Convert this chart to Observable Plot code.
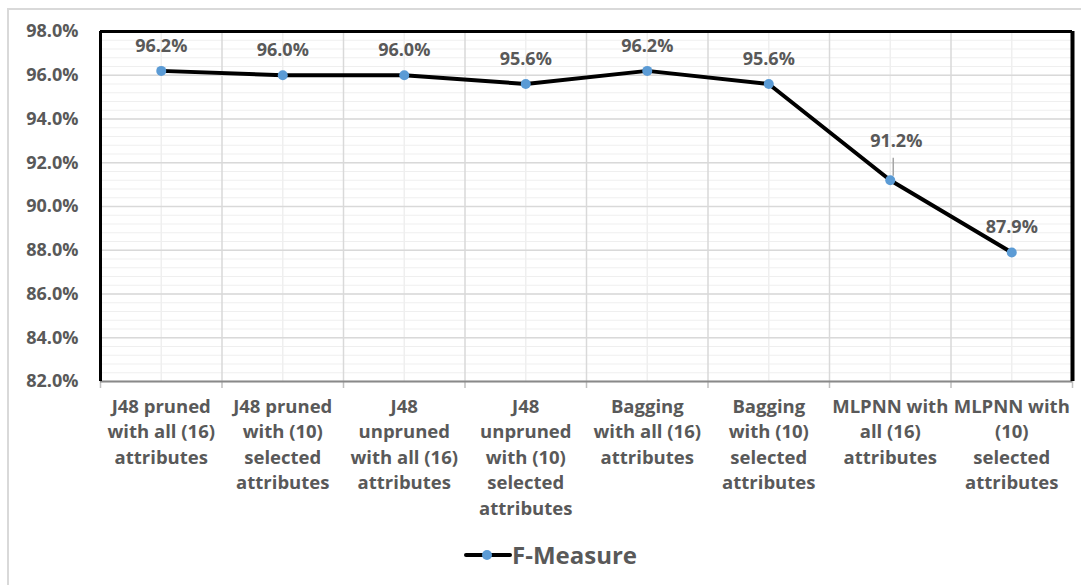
<!DOCTYPE html>
<html>
<head>
<meta charset="utf-8">
<script src="https://cdn.jsdelivr.net/npm/d3@7"></script>
<script src="https://cdn.jsdelivr.net/npm/@observablehq/plot@0.6"></script>
<style>
  html, body { margin: 0; padding: 0; background: #fff; }
  body { width: 1081px; height: 585px; position: relative; overflow: hidden; font-family: "Open Sans", sans-serif; }
  #outer { position: absolute; left: 7px; top: 8px; width: 1090px; height: 600px; border: 2px solid #d9d9d9; box-sizing: border-box; }
  #chart { position: absolute; left: 0; top: 0; }
  #legend { position: absolute; left: 0; top: 530px; width: 1081px; height: 55px; }
  #legend svg { position: absolute; left: 464px; top: 15px; }
  #legend span { position: absolute; left: 512px; top: 9px; font-size: 24px; font-weight: bold; color: #595959; line-height: 32px; }
</style>
</head>
<body>
<div id="outer"></div>
<div id="chart"></div>
<div id="legend">
  <svg width="48" height="20"><line x1="2" y1="10" x2="46" y2="10" stroke="#000" stroke-width="4" stroke-linecap="round"/><circle cx="23" cy="10" r="5" fill="#5b9bd5"/></svg>
  <span>F-Measure</span>
</div>
<script>
const categories = [
  "J48 pruned\nwith all (16)\nattributes",
  "J48 pruned\nwith (10)\nselected\nattributes",
  "J48\nunpruned\nwith all (16)\nattributes",
  "J48\nunpruned\nwith (10)\nselected\nattributes",
  "Bagging\nwith all (16)\nattributes",
  "Bagging\nwith (10)\nselected\nattributes",
  "MLPNN with\nall (16)\nattributes",
  "MLPNN with\n(10)\nselected\nattributes"
];
const fMeasure = [96.2, 96.0, 96.0, 95.6, 96.2, 95.6, 91.2, 87.9];
const yTicks = [82, 84, 86, 88, 90, 92, 94, 96, 98];
const yMinorTicks = d3.range(82, 98.001, 0.4);

const data = categories.map((c, i) => ({cat: c, i, pos: i + 0.5, v: fMeasure[i]}));
const bounds = d3.range(0, categories.length + 1);
const centers = data.map(d => d.pos);
const grey = "#595959";
const font = "'Open Sans', sans-serif";

const chart = Plot.plot({
  width: 1081,
  height: 530,
  marginTop: 31,
  marginRight: 9,
  marginBottom: 149,
  marginLeft: 100,
  style: {fontFamily: font, background: "transparent"},
  x: {type: "linear", domain: [0, categories.length], axis: null},
  y: {domain: [82, 98], axis: null},
  marks: [
    Plot.ruleY(yMinorTicks, {stroke: "#efefef", strokeWidth: 1}),
    Plot.ruleX(centers, {stroke: "#efefef", strokeWidth: 1.5}),
    Plot.ruleY(yTicks, {stroke: "#d9d9d9", strokeWidth: 1.5}),
    Plot.ruleX(bounds, {stroke: "#d9d9d9", strokeWidth: 1.5}),
    Plot.ruleX(bounds, {x: d => d, y1: 82, y2: 82, insetBottom: -7, stroke: "#bfbfbf", strokeWidth: 1.5}),
    Plot.ruleY([82], {stroke: "#898989", strokeWidth: 2}),
    Plot.ruleY([98], {stroke: "#000", strokeWidth: 3}),
    Plot.ruleX([0], {stroke: "#000", strokeWidth: 3}),
    Plot.ruleX([categories.length], {stroke: "#000", strokeWidth: 4}),
    Plot.axisY(yTicks, {label: null, tickSize: 0, tickPadding: 22, tickFormat: d => d.toFixed(1) + "%", fontSize: 18, fontWeight: "bold", fill: grey}),
    Plot.text(data, {x: "pos", y: () => 82, text: "cat", lineAnchor: "top", dy: 13, lineHeight: 1.38, fontSize: 18.5, fontWeight: "bold", fill: grey}),
    Plot.line(data, {x: "pos", y: "v", stroke: "#000", strokeWidth: 4}),
    Plot.dot(data, {x: "pos", y: "v", r: 5, fill: "#5b9bd5", stroke: "none"}),
    Plot.ruleX(data.filter(d => d.i === 6), {x: "pos", y1: "v", y2: "v", insetTop: -22, insetBottom: 4, dx: 3, stroke: "#a6a6a6", strokeWidth: 1.5}),
    Plot.text(data.filter(d => d.i !== 6), {x: "pos", y: "v", text: d => d.v.toFixed(1) + "%", dy: -25, fontSize: 18, fontWeight: "bold", fill: grey}),
    Plot.text(data.filter(d => d.i === 6), {x: "pos", y: "v", text: d => d.v.toFixed(1) + "%", dy: -39, dx: 6, fontSize: 18, fontWeight: "bold", fill: grey})
  ]
});
document.getElementById("chart").appendChild(chart);
</script>
</body>
</html>
